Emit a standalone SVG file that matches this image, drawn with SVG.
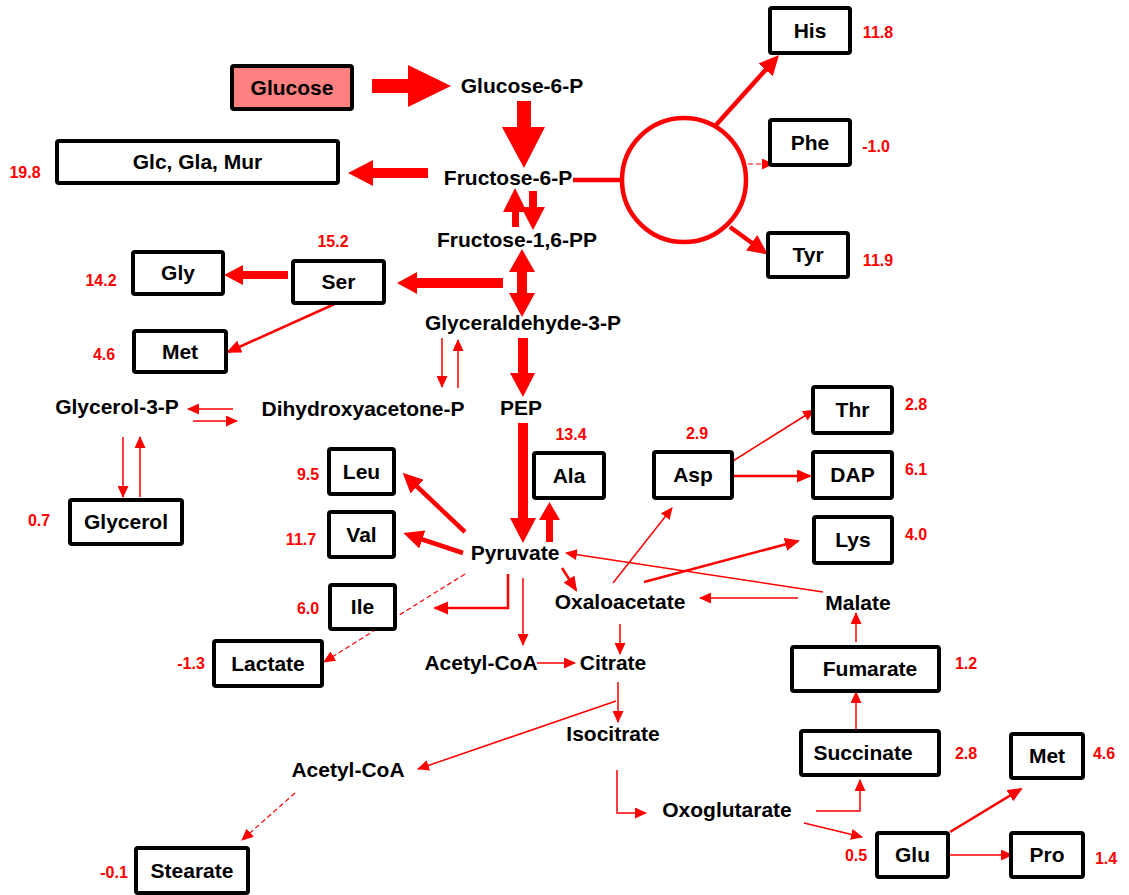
<svg xmlns="http://www.w3.org/2000/svg" width="1129" height="895" viewBox="0 0 1129 895">
<style>
.box{fill:#fff;stroke:#000;stroke-width:4}
.lbl{font-family:"Liberation Sans",Arial,sans-serif;font-weight:bold;font-size:21px;fill:#000;text-anchor:middle}
.num{font-family:"Liberation Sans",Arial,sans-serif;font-weight:bold;font-size:16px;fill:#f00;text-anchor:middle}
.blk{fill:#f00;stroke:none}
.t1{stroke:#f00;stroke-width:1.5;fill:none}
.t2{stroke:#f00;stroke-width:2.5;fill:none}
.t4{stroke:#f00;stroke-width:4.5;fill:none}
.d1{stroke:#f00;stroke-width:1.2;fill:none;stroke-dasharray:5,3}
</style>
<defs>
<marker id="ahs" markerUnits="userSpaceOnUse" markerWidth="12" markerHeight="11" viewBox="0 0 12 11" refX="11" refY="5.5" orient="auto"><path d="M0,0 L12,5.5 L0,11 z" fill="#f00"/></marker>
<marker id="ahm" markerUnits="userSpaceOnUse" markerWidth="15" markerHeight="13" viewBox="0 0 15 13" refX="13" refY="6.5" orient="auto"><path d="M0,0 L15,6.5 L0,13 z" fill="#f00"/></marker>
<marker id="ahl" markerUnits="userSpaceOnUse" markerWidth="20" markerHeight="19" viewBox="0 0 20 19" refX="14" refY="9.5" orient="auto"><path d="M0,0 L20,9.5 L0,19 z" fill="#f00"/></marker>
</defs>
<rect width="1129" height="895" fill="#fff"/>

<g id="connectors">
<polygon class="blk" points="372,79 408,79 408,65 451,86 408,107 408,93 372,93"/>
<polygon class="blk" points="517,101 531,101 531,127 545,127 524,168 502,127 517,127"/>
<polygon class="blk" points="428,168 373,168 373,160 348,173 373,186 373,178 428,178"/>
<line class="t4" x1="573" y1="180" x2="623" y2="180"/>
<polygon class="blk" points="512,227 512,212 503,212 515,188 527,212 519,212 519,227"/>
<polygon class="blk" points="529,191 537,191 537,207 545,207 533,230 521,207 529,207"/>
<polygon class="blk" points="522,249 535,272 527,272 527,293 535,293 522,317 509,293 517,293 517,272 509,272"/>
<polygon class="blk" points="503,278 417,278 417,272 397,283 417,294 417,288 503,288"/>
<polygon class="blk" points="288,271 243,271 243,265 224,275 243,285 243,279 288,279"/>
<line class="t2" x1="339" y1="302" x2="228" y2="352" marker-end="url(#ahm)"/>
<line class="t1" x1="442" y1="338" x2="442" y2="387" marker-end="url(#ahs)"/>
<line class="t1" x1="458" y1="388" x2="458" y2="340" marker-end="url(#ahs)"/>
<polygon class="blk" points="518,338 528,338 528,373 535,373 523,397 510,373 518,373"/>
<polygon class="blk" points="518,423 528,423 528,518 536,518 523,543 510,518 518,518"/>
<polygon class="blk" points="546,542 553,542 553,520 560,520 549.5,502 539,520 546,520"/>
<line class="t4" x1="465" y1="532" x2="407" y2="477" marker-end="url(#ahl)"/>
<line class="t4" x1="463" y1="553" x2="409" y2="535" marker-end="url(#ahl)"/>
<polyline class="t2" points="508,574 508,608 435,608" marker-end="url(#ahm)"/>
<line class="d1" x1="465" y1="574" x2="324" y2="662" marker-end="url(#ahs)"/>
<line class="t1" x1="523" y1="578" x2="523" y2="645" marker-end="url(#ahs)"/>
<line class="t2" x1="562" y1="568" x2="576" y2="590" marker-end="url(#ahm)"/>
<line class="t1" x1="823" y1="592" x2="566" y2="553" marker-end="url(#ahs)"/>
<line class="t1" x1="798" y1="598" x2="700" y2="598" marker-end="url(#ahs)"/>
<line class="t1" x1="613" y1="583" x2="672" y2="508" marker-end="url(#ahs)"/>
<line class="t2" x1="644" y1="582" x2="798" y2="541" marker-end="url(#ahm)"/>
<line class="t1" x1="733" y1="461" x2="814" y2="410" marker-end="url(#ahs)"/>
<line class="t2" x1="733" y1="476" x2="810" y2="476" marker-end="url(#ahm)"/>
<line class="t1" x1="620" y1="624" x2="620" y2="654" marker-end="url(#ahs)"/>
<line class="t1" x1="537" y1="663" x2="575" y2="663" marker-end="url(#ahs)"/>
<line class="t1" x1="618" y1="682" x2="618" y2="722" marker-end="url(#ahs)"/>
<line class="t1" x1="616" y1="701" x2="418" y2="769" marker-end="url(#ahs)"/>
<polyline class="t1" points="617,770 617,813 646,813" marker-end="url(#ahs)"/>
<polyline class="t1" points="816,811 860,811 860,780" marker-end="url(#ahs)"/>
<line class="t1" x1="804" y1="823" x2="862" y2="837" marker-end="url(#ahs)"/>
<line class="t1" x1="856" y1="732" x2="856" y2="692" marker-end="url(#ahs)"/>
<line class="t1" x1="856" y1="642" x2="856" y2="613" marker-end="url(#ahs)"/>
<line class="t2" x1="950" y1="832" x2="1021" y2="789" marker-end="url(#ahm)"/>
<line class="t1" x1="948" y1="855" x2="1012" y2="855" marker-end="url(#ahs)"/>
<line class="d1" x1="295" y1="793" x2="242" y2="840" marker-end="url(#ahs)"/>
<line class="t1" x1="233" y1="409" x2="188" y2="409" marker-end="url(#ahs)"/>
<line class="t1" x1="193" y1="421" x2="237" y2="421" marker-end="url(#ahs)"/>
<line class="t1" x1="123" y1="437" x2="123" y2="497" marker-end="url(#ahs)"/>
<line class="t1" x1="140" y1="497" x2="140" y2="437" marker-end="url(#ahs)"/>
<line class="t4" x1="716" y1="125" x2="775" y2="59.5" marker-end="url(#ahl)"/>
<line class="d1" x1="748" y1="164" x2="773" y2="164" marker-end="url(#ahs)"/>
<line class="t4" x1="730" y1="227" x2="763" y2="251" marker-end="url(#ahl)"/>
</g>

<g id="node-circle"><circle cx="684" cy="180" r="62" fill="#fff" stroke="#f00" stroke-width="4.5"/></g>

<g id="node-glucose"><rect class="box" x="232" y="66" width="120" height="43" rx="2" style="fill:#ff8080"/><text class="lbl" x="292" y="95">Glucose</text></g>
<g id="node-glcglamur"><rect class="box" x="57" y="141" width="281" height="42" rx="2"/><text class="lbl" x="197.5" y="169">Glc, Gla, Mur</text><text class="num" x="25" y="178">19.8</text></g>
<g id="node-gly"><rect class="box" x="133" y="252" width="90" height="42" rx="2"/><text class="lbl" x="178" y="280">Gly</text><text class="num" x="101" y="286">14.2</text></g>
<g id="node-ser"><rect class="box" x="293" y="261" width="91" height="42" rx="2"/><text class="lbl" x="338.5" y="289">Ser</text><text class="num" x="333" y="247">15.2</text></g>
<g id="node-met1"><rect class="box" x="134" y="331" width="92" height="41" rx="2"/><text class="lbl" x="180" y="359">Met</text><text class="num" x="104" y="360">4.6</text></g>
<g id="node-glycerol"><rect class="box" x="70" y="500" width="112" height="44" rx="2"/><text class="lbl" x="126" y="529">Glycerol</text><text class="num" x="39" y="526">0.7</text></g>
<g id="node-leu"><rect class="box" x="329" y="449" width="65" height="45" rx="2"/><text class="lbl" x="361.5" y="479">Leu</text><text class="num" x="308" y="480">9.5</text></g>
<g id="node-val"><rect class="box" x="329" y="512" width="65" height="45" rx="2"/><text class="lbl" x="361.5" y="542">Val</text><text class="num" x="301" y="545">11.7</text></g>
<g id="node-ile"><rect class="box" x="330" y="585" width="65" height="44" rx="2"/><text class="lbl" x="362.5" y="614">Ile</text><text class="num" x="308" y="614">6.0</text></g>
<g id="node-lactate"><rect class="box" x="214" y="641" width="108" height="45" rx="2"/><text class="lbl" x="268" y="671">Lactate</text><text class="num" x="191" y="669">-1.3</text></g>
<g id="node-ala"><rect class="box" x="534" y="453" width="70" height="45" rx="2"/><text class="lbl" x="569" y="483">Ala</text><text class="num" x="571" y="440">13.4</text></g>
<g id="node-asp"><rect class="box" x="654" y="452" width="78" height="46" rx="2"/><text class="lbl" x="693" y="482">Asp</text><text class="num" x="697" y="439">2.9</text></g>
<g id="node-thr"><rect class="box" x="813" y="387" width="79" height="46" rx="2"/><text class="lbl" x="852.5" y="417">Thr</text><text class="num" x="916" y="410">2.8</text></g>
<g id="node-dap"><rect class="box" x="813" y="452" width="79" height="46" rx="2"/><text class="lbl" x="852.5" y="482">DAP</text><text class="num" x="916" y="475">6.1</text></g>
<g id="node-lys"><rect class="box" x="814" y="517" width="78" height="46" rx="2"/><text class="lbl" x="853" y="547">Lys</text><text class="num" x="916" y="540">4.0</text></g>
<g id="node-fumarate"><rect class="box" x="792" y="647" width="147" height="44" rx="2"/><text class="lbl" x="870" y="676">Fumarate</text><text class="num" x="966" y="669">1.2</text></g>
<g id="node-succinate"><rect class="box" x="801" y="731" width="138" height="44" rx="2"/><text class="lbl" x="863" y="760">Succinate</text><text class="num" x="966" y="759">2.8</text></g>
<g id="node-met2"><rect class="box" x="1011" y="734" width="72" height="44" rx="2"/><text class="lbl" x="1047" y="763">Met</text><text class="num" x="1104" y="759">4.6</text></g>
<g id="node-glu"><rect class="box" x="877" y="833" width="71" height="44" rx="2"/><text class="lbl" x="912.5" y="862">Glu</text><text class="num" x="856" y="861">0.5</text></g>
<g id="node-pro"><rect class="box" x="1011" y="833" width="72" height="44" rx="2"/><text class="lbl" x="1047" y="862">Pro</text><text class="num" x="1106" y="864">1.4</text></g>
<g id="node-stearate"><rect class="box" x="136" y="848" width="112" height="45" rx="2"/><text class="lbl" x="192" y="878">Stearate</text><text class="num" x="114" y="878">-0.1</text></g>
<g id="node-his"><rect class="box" x="770" y="8" width="80" height="45" rx="2"/><text class="lbl" x="810" y="38">His</text><text class="num" x="878" y="38">11.8</text></g>
<g id="node-phe"><rect class="box" x="770" y="120" width="80" height="45" rx="2"/><text class="lbl" x="810" y="150">Phe</text><text class="num" x="876" y="152">-1.0</text></g>
<g id="node-tyr"><rect class="box" x="768" y="233" width="80" height="44" rx="2"/><text class="lbl" x="808" y="262">Tyr</text><text class="num" x="878" y="266">11.9</text></g>

<g id="node-g6p"><text class="lbl" x="522" y="93">Glucose-6-P</text></g>
<g id="node-f6p"><text class="lbl" x="508" y="185">Fructose-6-P</text></g>
<g id="node-f16pp"><text class="lbl" x="517" y="247">Fructose-1,6-PP</text></g>
<g id="node-gap"><text class="lbl" x="523" y="330">Glyceraldehyde-3-P</text></g>
<g id="node-dhap"><text class="lbl" x="363" y="416">Dihydroxyacetone-P</text></g>
<g id="node-pep"><text class="lbl" x="521" y="415">PEP</text></g>
<g id="node-g3p"><text class="lbl" x="117" y="414">Glycerol-3-P</text></g>
<g id="node-pyruvate"><text class="lbl" x="515" y="560">Pyruvate</text></g>
<g id="node-oxaloacetate"><text class="lbl" x="620" y="609">Oxaloacetate</text></g>
<g id="node-malate"><text class="lbl" x="858" y="610">Malate</text></g>
<g id="node-acetylcoa1"><text class="lbl" x="481" y="670">Acetyl-CoA</text></g>
<g id="node-citrate"><text class="lbl" x="613" y="670">Citrate</text></g>
<g id="node-isocitrate"><text class="lbl" x="613" y="741">Isocitrate</text></g>
<g id="node-oxoglutarate"><text class="lbl" x="727" y="817">Oxoglutarate</text></g>
<g id="node-acetylcoa2"><text class="lbl" x="348" y="777">Acetyl-CoA</text></g>
</svg>
